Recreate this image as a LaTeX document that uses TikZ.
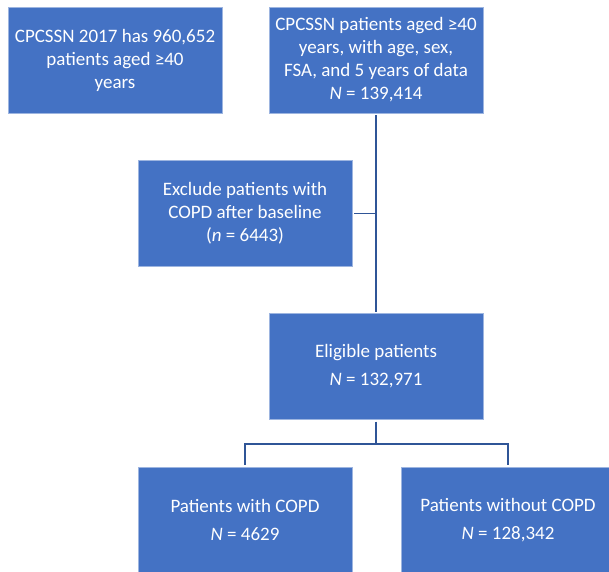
\documentclass[tikz,border=0pt]{standalone}
\usepackage{fontspec}
\setmainfont{Carlito}
\definecolor{boxblue}{HTML}{4472C4}
\definecolor{boxedge}{HTML}{9DB5E0}
\definecolor{linkblue}{HTML}{2F5597}
\begin{document}
\begin{tikzpicture}[
	x=1pt, y=-1pt,
	flowbox/.style={ rectangle, fill=boxblue, draw=boxedge, line width=0.6pt, text=white, minimum width=214pt, minimum height=106pt, inner sep=0pt, outer sep=2pt, align=center, font=\fontsize{19}{23}\selectfont },
	link/.style={ draw=linkblue, line width=1.6pt }
]

\clip (0,0) rectangle (609,571);
\fill[white] (0,0) rectangle (609,571);
\node at (115,60) (all) [flowbox] {CPCSSN 2017 has 960,652\\ patients aged ≥40\\ years};
\node at (376,60) (aged) [flowbox] {CPCSSN patients aged ≥40\\ years, with age, sex,\\ FSA, and 5 years of data\\ \textit{N} = 139,414};
\node at (245,213.5) (excl) [flowbox] {Exclude patients with\\ COPD after baseline\\ (\textit{n} = 6443)};
\node at (376,366.5) (elig) [flowbox] {Eligible patients\\[5pt] \textit{N} = 132,971};
\node at (245,520) (copd) [flowbox] {Patients with COPD\\[5pt] \textit{N} = 4629};
\node at (508,520) (nocopd) [flowbox] {Patients without COPD\\[5pt] \textit{N} = 128,342};
\coordinate (split) at (376,444);

\draw[link] (aged.south) -- (elig.north);
\draw[link] (excl.east) -- (excl.east -| aged.south);
\draw[link] (elig.south) -- (split);
\foreach \b in {copd,nocopd}
	\draw[link] (split) -| (\b.north);

\end{tikzpicture}
\end{document}
